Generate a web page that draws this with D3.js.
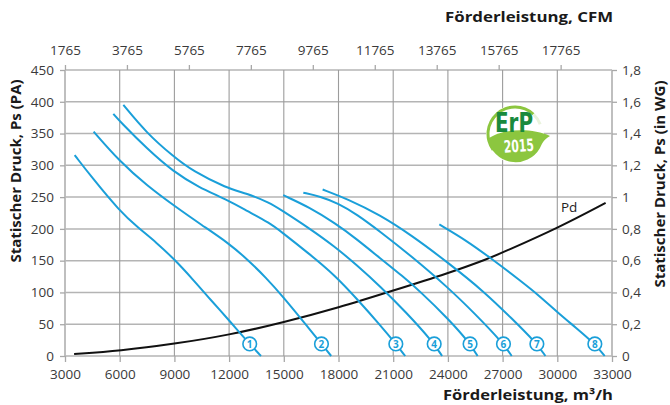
<!DOCTYPE html>
<html>
<head>
<meta charset="utf-8">
<script src="https://cdn.jsdelivr.net/npm/d3@7"></script>
<style>
  html, body { margin: 0; padding: 0; background: #fff; }
  svg { display: block; }
</style>
</head>
<body>
<svg id="chart" width="670" height="405"></svg>
<script>
// ---------- DATA ----------
const flowTicks = [3000, 6000, 9000, 12000, 15000, 18000, 21000, 24000, 27000, 30000, 33000];
const paTicks = [0, 50, 100, 150, 200, 250, 300, 350, 400, 450];
const cfmTicks = [1765, 3765, 5765, 7765, 9765, 11765, 13765, 15765, 17765];
const wgTicks = [0, 0.2, 0.4, 0.6, 0.8, 1.0, 1.2, 1.4, 1.6, 1.8];

const curveNames = ["1", "2", "3", "4", "5", "6", "7", "8"];
// [flow m3/h, static pressure Pa]
const curve1 = [[3530,316],[4500,280],[6000,228],[7000,202],[8000,179],[9000,152],[10000,121],[11000,88],[12000,56],[13000,23],[13750,0]];
const curve2 = [[4570,353],[6000,306],[7500,268],[9000,236],[10500,206],[12000,177],[13000,152],[14000,124],[15000,92],[16250,48],[17600,0]];
const curve3 = [[5650,381],[6016,369],[7500,326],[8940,290],[10300,266],[11870,246],[13000,228],[14240,209],[14790,197],[16300,163],[17810,127],[19100,87],[20275,49],[21090,21],[21660,0]];
const curve4 = [[6200,395],[7500,350],[8940,314],[10000,291],[11870,264],[12960,256],[14240,241],[14790,231],[16300,203],[17810,172],[19000,143],[20275,110],[21700,69],[23180,22],[23680,0]];
const curve5 = [[14970,253],[16400,234],[17810,209],[19000,184],[20275,154],[21500,126],[22500,101],[24000,59],[25150,22],[25630,0]];
const curve6 = [[16070,257],[17000,251],[18000,240],[19000,223],[20275,196],[22000,157],[24000,108],[25500,66],[27000,21],[27500,0]];
const curve7 = [[17130,262],[18500,247],[20275,222],[22000,190],[24000,147],[26000,101],[27500,59],[28830,21],[29350,0]];
const curve8 = [[23530,207],[25000,182],[26300,155],[28000,118],[29000,95],[30000,69],[31000,45],[32100,18],[32600,0]];
const fanCurves = [curve1, curve2, curve3, curve4, curve5, curve6, curve7, curve8];
const labelPressure = 19;

// dynamic pressure Pd
const pdCurve = [[3500,3],[6000,8],[9000,19],[12000,33],[15000,53],[18000,76],[21000,103],[24000,130],[26300,154],[27000,163],[30000,201],[32650,241]];
const pdLabel = "Pd";
const pdLabelAt = [30200, 227];

const titles = {
  left: "Statischer Druck, Ps (PA)",
  right: "Statischer Druck, Ps (in WG)",
  top: "Förderleistung, CFM",
  bottom: "Förderleistung, m³/h"
};
const logoTop = "ErP", logoBottom = "2015";

// ---------- DRAW ----------
const svg = d3.select("#chart");
const L = 65, R = 612, T = 70, B = 356;
const x = d3.scaleLinear().domain([3000, 33000]).range([L, R]);
const y = d3.scaleLinear().domain([0, 450]).range([B, T]);
const yWG = d3.scaleLinear().domain([0, 1.8]).range([B, T]);
const xCFM = d3.scaleLinear().domain([3000 / 1.699, 33000 / 1.699]).range([L, R]);

const FONT = "'Open Sans', 'Noto Sans', sans-serif";
const tickColor = "#3a3a3a";
const blue = "#1a9fd9";

// grid
const grid = svg.append("g");
grid.selectAll("line.h").data(paTicks).join("line")
  .attr("x1", L).attr("x2", R)
  .attr("y1", d => y(d)).attr("y2", d => y(d))
  .attr("stroke", "#b4b4b4").attr("stroke-width", 1.5);
grid.selectAll("line.v").data(flowTicks).join("line")
  .attr("x1", d => x(d)).attr("x2", d => x(d))
  .attr("y1", T).attr("y2", B)
  .attr("stroke", (d, i) => (i === 0 || i === flowTicks.length - 1) ? "#b8b8b8" : "#9c9c9c")
  .attr("stroke-width", (d, i) => (i === 0 || i === flowTicks.length - 1) ? 1.8 : 1.1);

function styleAxis(g) {
  g.select(".domain").remove();
  g.selectAll(".tick line").attr("stroke", "#a8a8a8").attr("stroke-width", 1.3);
  g.selectAll(".tick text").attr("fill", tickColor).style("font-family", FONT).style("font-size", "13.5px");
}

svg.append("g").attr("transform", `translate(${L},0)`)
  .call(d3.axisLeft(y).tickValues(paTicks).tickSize(5).tickPadding(6))
  .call(styleAxis);
svg.append("g").attr("transform", `translate(${R},0)`)
  .call(d3.axisRight(yWG).tickValues(wgTicks).tickSize(5).tickPadding(5)
    .tickFormat(d => String(Math.round(d * 10) / 10).replace(".", ",")))
  .call(styleAxis);
svg.append("g").attr("transform", `translate(0,${B})`)
  .call(d3.axisBottom(x).tickValues(flowTicks).tickSize(6).tickPadding(7).tickFormat(d3.format("d")))
  .call(styleAxis);
svg.append("g").attr("transform", `translate(0,${T})`)
  .call(d3.axisTop(xCFM).tickValues(cfmTicks).tickSize(5).tickPadding(10).tickFormat(d3.format("d")))
  .call(styleAxis);

// titles
const titleStyle = sel => sel.style("font-family", FONT).style("font-weight", 700)
  .style("font-size", "15px").attr("fill", "#1a1a1a");
svg.append("text").attr("transform", "translate(21,171) rotate(-90)")
  .attr("text-anchor", "middle").text(titles.left).call(titleStyle);
svg.append("text").attr("transform", "translate(665,184) rotate(-90)")
  .attr("text-anchor", "middle").text(titles.right).call(titleStyle);
svg.append("text").attr("x", 445).attr("y", 22)
  .attr("textLength", 168).attr("lengthAdjust", "spacingAndGlyphs")
  .text(titles.top).call(titleStyle);
svg.append("text").attr("x", 443).attr("y", 400)
  .attr("textLength", 170).attr("lengthAdjust", "spacingAndGlyphs")
  .text(titles.bottom).call(titleStyle);

// ErP logo (decoration)
const logo = svg.append("g").attr("transform", "translate(515,134)");
logo.append("circle").attr("r", 29).attr("fill", "#fff");
const arc = d3.arc().innerRadius(25.5).outerRadius(28.5);
logo.append("path").attr("d", arc({startAngle: -2.2, endAngle: 0.75})).attr("fill", "#8cc63f");
logo.append("path").attr("d", arc({startAngle: 0.75, endAngle: 1.2})).attr("fill", "#e9f3dc");
logo.append("path")
  .attr("d", "M -27,5 C -14,-6 18,-6 35,2 C 28,6 27,10 25,14 A 28,28 0 0 1 -27,5 Z")
  .attr("fill", "#8cc63f");
logo.append("text").attr("x", -1).attr("y", -2).attr("text-anchor", "middle")
  .attr("textLength", 38).attr("lengthAdjust", "spacingAndGlyphs")
  .style("font-family", "'DejaVu Sans Condensed', 'Liberation Sans Narrow', 'Open Sans', sans-serif")
  .style("font-weight", 700).style("font-size", "26px").attr("fill", "#198a3d").text(logoTop);
logo.append("text").attr("x", 3).attr("y", 18).attr("text-anchor", "middle")
  .attr("transform", "rotate(-4)")
  .attr("textLength", 30).attr("lengthAdjust", "spacingAndGlyphs")
  .style("font-family", "'DejaVu Sans Condensed', 'Liberation Sans Narrow', 'Open Sans', sans-serif")
  .style("font-weight", 700).style("font-size", "17px").attr("fill", "#fff").text(logoBottom);

// curves
const line = d3.line().x(d => x(d[0])).y(d => y(d[1])).curve(d3.curveBasis);
svg.append("path").datum(pdCurve).attr("d", line)
  .attr("fill", "none").attr("stroke", "#111").attr("stroke-width", 2);
svg.append("text").attr("x", x(pdLabelAt[0])).attr("y", y(pdLabelAt[1]))
  .style("font-family", FONT).style("font-size", "13.5px").attr("fill", "#222").text(pdLabel);

svg.append("g").selectAll("path").data(fanCurves).join("path")
  .attr("d", line).attr("fill", "none").attr("stroke", blue).attr("stroke-width", 2);

// labels: where each curve reaches labelPressure
function flowAt(c, p) {
  for (let i = 0; i < c.length - 1; i++) {
    const a = c[i], b = c[i + 1];
    if ((a[1] - p) * (b[1] - p) <= 0) return a[0] + (b[0] - a[0]) * (a[1] - p) / (a[1] - b[1]);
  }
  return c[c.length - 1][0];
}
const lab = svg.append("g").selectAll("g").data(fanCurves).join("g")
  .attr("transform", d => `translate(${x(flowAt(d, labelPressure))},${y(labelPressure)})`);
lab.append("circle").attr("r", 6.8).attr("fill", "#fff").attr("stroke", blue).attr("stroke-width", 1.6);
lab.append("text").attr("text-anchor", "middle").attr("dy", "0.36em")
  .style("font-family", FONT).style("font-weight", 700).style("font-size", "10px")
  .attr("fill", blue).text((d, i) => curveNames[i]);
</script>
</body>
</html>
